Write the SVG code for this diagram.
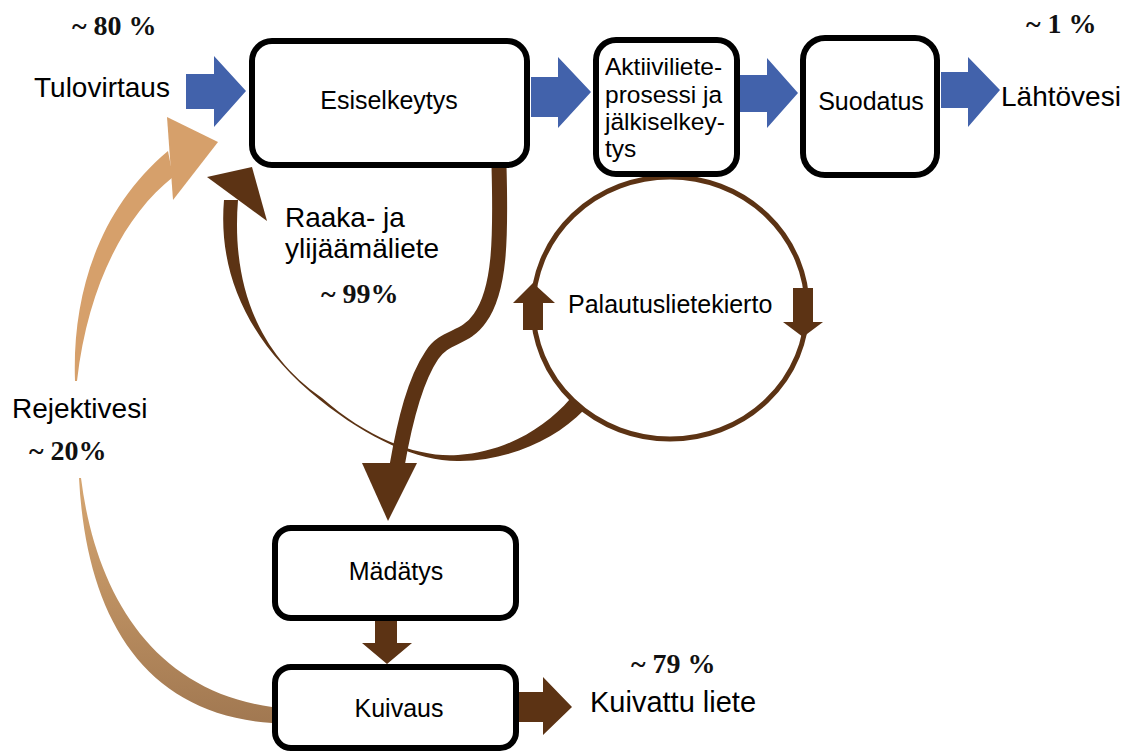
<svg xmlns="http://www.w3.org/2000/svg" width="1134" height="754" viewBox="0 0 1134 754">
<defs>
<style>
.box{fill:#fff;stroke:#000;stroke-width:6}
.t{font-family:"Liberation Sans",Arial,sans-serif;fill:#000}
.pct{font-family:"Liberation Serif","Times New Roman",serif;font-weight:bold;font-size:28px;fill:#111}
.blue{fill:#4262AB}
.brown{fill:#5C3314}
</style>
<linearGradient id="tanLow" x1="0" y1="0" x2="0" y2="1">
<stop offset="0" stop-color="#D6A671"/>
<stop offset="1" stop-color="#A17851"/>
</linearGradient>
</defs>
<rect width="1134" height="754" fill="#fff"/>

<g id="labels">
<text class="pct" x="72" y="35">~ 80 %</text>
<text class="t" x="34" y="97" font-size="28">Tulovirtaus</text>
<text class="pct" x="1026" y="33">~ 1 %</text>
<text class="t" x="1001" y="106" font-size="28">Lähtövesi</text>
<text class="t" x="285" y="227" font-size="28">Raaka- ja</text>
<text class="t" x="285" y="258" font-size="28">ylijäämäliete</text>
<text class="pct" x="321" y="303">~ 99%</text>
<text class="t" x="12" y="418" font-size="28">Rejektivesi</text>
<text class="pct" x="29" y="460">~ 20%</text>
<text class="pct" x="631" y="673">~ 79 %</text>
<text class="t" x="590" y="712" font-size="29">Kuivattu liete</text>
</g>

<g id="connectors">
<!-- blue flow arrows -->
<polygon class="blue" points="186,74 214,74 214,56 246,91 214,127 214,109 186,109"/>
<polygon class="blue" points="531,77 558,77 558,57 591,92 558,128 558,117 531,117"/>
<polygon class="blue" points="739,75 767,75 767,58 798,93 767,128 767,112 739,112"/>
<polygon class="blue" points="941,72 968,72 968,57 1000,90 968,127 968,108 941,108"/>
<!-- Rejektivesi return (tan) -->
<path d="M75 381 C72 295 98 210 168 151 L173 177 C125 215 88 285 77 381 Z" fill="#D6A06B"/>
<polygon points="167,117 218,142 173,200" fill="#D6A06B"/>
<path d="M81 478 C95 590 150 690 272 707 L272 723 C140 714 86 612 79 478 Z" fill="url(#tanLow)"/>
<!-- recirculation loop back to Esiselkeytys -->
<path class="brown" d="M224 200 C218 270 245 340 320 400 C370 440 420 462 460 461 C510 460 555 440 584 410 L570 399 C545 428 505 452 458 455 C420 458 370 440 322 398 C252 350 232 275 238 200 Z"/>
<polygon class="brown" points="207,177 252,167 267,221"/>
<!-- Palautuslietekierto circle -->
<ellipse cx="670" cy="308" rx="137" ry="131" fill="none" stroke="#5C3314" stroke-width="5"/>
<polygon class="brown" points="523,330 523,303 513,303 533,283 555,303 543,303 543,330"/>
<polygon class="brown" points="793,288 813,288 813,322 823,322 803,337 783,322 793,322"/>
<!-- Esiselkeytys to Mädätys -->
<path d="M499 166 C501 240 500 290 480 318 C465 340 445 335 432 355 C415 380 405 420 397 466" fill="none" stroke="#5C3314" stroke-width="15"/>
<polygon class="brown" points="362,463 417,463 388,521"/>
<!-- Mädätys to Kuivaus -->
<polygon class="brown" points="375,620 397,620 397,643 412,643 387,664 362,643 375,643"/>
<!-- Kuivaus to Kuivattu liete -->
<polygon class="brown" points="518,692 543,692 543,677 572,707 543,735 543,722 518,722"/>
</g>

<g id="esiselkeytys">
<rect class="box" x="252" y="41" width="275" height="124" rx="20"/>
<text class="t" x="389" y="109" font-size="25" text-anchor="middle">Esiselkeytys</text>
</g>
<g id="aktiiviliete">
<rect class="box" x="596" y="40" width="141" height="134" rx="20"/>
<text class="t" font-size="24.5"><tspan x="605" y="75">Aktiiviliete-</tspan><tspan x="605" y="103">prosessi ja</tspan><tspan x="605" y="130">jälkiselkey-</tspan><tspan x="605" y="157">tys</tspan></text>
</g>
<g id="suodatus">
<rect class="box" x="803" y="38" width="134" height="137" rx="22"/>
<text class="t" x="871" y="110" font-size="25" text-anchor="middle">Suodatus</text>
</g>
<g id="palautus">
<text class="t" x="568" y="313" font-size="25">Palautuslietekierto</text>
</g>
<g id="madatys">
<rect class="box" x="275" y="528" width="241" height="90" rx="16"/>
<text class="t" x="396" y="580" font-size="25" text-anchor="middle">Mädätys</text>
</g>
<g id="kuivaus">
<rect class="box" x="275" y="667" width="241" height="81" rx="16"/>
<text class="t" x="399" y="717" font-size="25" text-anchor="middle">Kuivaus</text>
</g>
</svg>
